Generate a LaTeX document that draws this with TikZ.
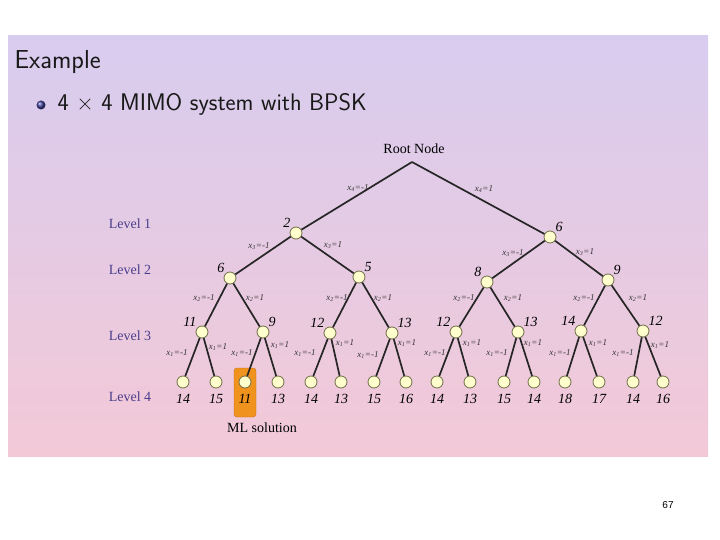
\documentclass[tikz,border=0pt]{standalone}
\usepackage{fontspec}
\setmainfont{Liberation Serif}
\newfontfamily\pagenumfont{Liberation Sans}
\definecolor{PanelTop}  {RGB}{216,204,239}
\definecolor{PanelBot}  {RGB}{243,201,215}
\definecolor{LevelBlue} {RGB}{75,62,140}
\definecolor{NodeFill}  {RGB}{255,255,205}
\definecolor{NodeEdge}  {RGB}{110,110,70}
\definecolor{MLOrange}  {RGB}{240,146,30}
\definecolor{MLBorder}  {RGB}{200,110,20}
\definecolor{BulletBlue}{RGB}{60,60,150}
\usetikzlibrary{positioning}
\tikzset{
  tnode/.style={circle,draw=NodeEdge,fill=NodeFill,line width=0.8pt,
                minimum size=12pt,inner sep=0pt},
  branch/.style={line width=1.7pt,black!85},
  val/.style={font=\fontsize{14}{14}\selectfont\itshape,inner sep=1pt},
  elbl/.style={font=\fontsize{9}{9}\selectfont\itshape,text=black!80,inner sep=0pt},
  lvl/.style={font=\fontsize{14}{14}\selectfont,text=LevelBlue},
}
\newcommand{\xeq}[2]{x\textsubscript{#1}=#2}

\begin{document}
\begin{tikzpicture}[x=1pt,y=-1pt]
  \useasboundingbox (0,0) rectangle (720,540);
  \fill[white] (0,0) rectangle (720,540);
  %% slide panel
  \shade[top color=PanelTop,bottom color=PanelBot] (8,36) rectangle (708,456);
  \node[anchor=west,font=\sffamily\fontsize{26}{26}\selectfont,text=black!90]
       (title) at (11,62) {Example};
  \shade[ball color=BulletBlue] (41,105) circle (4.5pt);
  \node[anchor=west,font=\sffamily\fontsize{24}{24}\selectfont,text=black!90]
       (item) at (54,104) {4 \texttimes{} 4 MIMO system with BPSK};
  %% level names
  \node[lvl] (lv1) at (130,224) {Level 1};
  \node[lvl] (lv2) at (130,270) {Level 2};
  \node[lvl] (lv3) at (130,336) {Level 3};
  \node[lvl] (lv4) at (130,397) {Level 4};
  %% ML solution box
  \node[rounded corners=3pt,fill=MLOrange,draw=MLBorder,
        minimum width=22pt,minimum height=49pt] (mlbox) at (245,392.5) {};
  \node[font=\fontsize{14}{14}\selectfont] (mltxt) at (262,428) {ML solution};
  %% root and level 1
  \coordinate (root) at (412,162);
  \node[font=\fontsize{14}{14}\selectfont] (rootlbl) at (414,149) {Root Node};
  \node[tnode,label={[val]above left:2}]  (n11) at (296,233) {};
  \node[tnode,label={[val]above right:6}] (n12) at (550,237) {};
  %% level 2
  \node[tnode,label={[val]above left:6}]  (n21) at (230,278) {};
  \node[tnode,label={[val]above right:5}] (n22) at (359,277) {};
  \node[tnode,label={[val]above left:8}]  (n23) at (487,282) {};
  \node[tnode,label={[val]above right:9}] (n24) at (608,280) {};
  %% level 3
  \node[tnode,label={[val]above left:11}]  (n31) at (202,332) {};
  \node[tnode,label={[val]above right:9}]  (n32) at (263,332) {};
  \node[tnode,label={[val]above left:12}]  (n33) at (330,333) {};
  \node[tnode,label={[val]above right:13}] (n34) at (392,333) {};
  \node[tnode,label={[val]above left:12}]  (n35) at (456,332) {};
  \node[tnode,label={[val]above right:13}] (n36) at (518,332) {};
  \node[tnode,label={[val]above left:14}]  (n37) at (581,331) {};
  \node[tnode,label={[val]above right:12}] (n38) at (643,331) {};
  %% level 4 (leaves)
  \foreach \x/\v [count=\i] in {183/14,216/15,245/11,278/13,311/14,341/13,
      374/15,406/16,437/14,470/13,504/15,534/14,565/18,599/17,633/14,663/16}
    \node[tnode,label={[val,label distance=5pt]below:\v}] (n4\i) at (\x,382) {};
  %% branches
  \draw[branch] (root) -- (n11);
  \draw[branch] (root) -- (n12);
  \draw[branch] (n11) -- (n21);  \draw[branch] (n11) -- (n22);
  \draw[branch] (n12) -- (n23);  \draw[branch] (n12) -- (n24);
  \draw[branch] (n21) -- (n31);  \draw[branch] (n21) -- (n32);
  \draw[branch] (n22) -- (n33);  \draw[branch] (n22) -- (n34);
  \draw[branch] (n23) -- (n35);  \draw[branch] (n23) -- (n36);
  \draw[branch] (n24) -- (n37);  \draw[branch] (n24) -- (n38);
  \foreach \p in {1,...,8}{
    \pgfmathtruncatemacro{\a}{2*\p-1}
    \pgfmathtruncatemacro{\b}{2*\p}
    \draw[branch] (n3\p) -- (n4\a);
    \draw[branch] (n3\p) -- (n4\b);
  }
  %% branch labels
  \node[elbl] (e4a) at (358,188) {\xeq{4}{-1}};
  \node[elbl] (e4b) at (484,189) {\xeq{4}{1}};
  \node[elbl] (e3a) at (259,246) {\xeq{3}{-1}};
  \node[elbl] (e3b) at (333,245) {\xeq{3}{1}};
  \node[elbl] (e3c) at (513,253) {\xeq{3}{-1}};
  \node[elbl] (e3d) at (585,252) {\xeq{3}{1}};
  \foreach \x/\s [count=\i] in {204/-1,255/1,337/-1,383/1,464/-1,513/1,584/-1,638/1}
    \node[elbl] (e2\i) at (\x,298) {\xeq{2}{\s}};
  \foreach \x/\y/\s [count=\i] in {177/353/-1,218/347/1,242/353/-1,280/345/1,
      305/353/-1,345/343/1,368/355/-1,407/343/1,435/353/-1,472/343/1,
      497/353/-1,533/343/1,560/353/-1,598/343/1,623/353/-1,660/345/1}
    \node[elbl] (e1\i) at (\x,\y) {\xeq{1}{\s}};
  %% page number
  \node[font=\pagenumfont\fontsize{10}{10}\selectfont] (pnum) at (668,505) {67};
\end{tikzpicture}
\end{document}
